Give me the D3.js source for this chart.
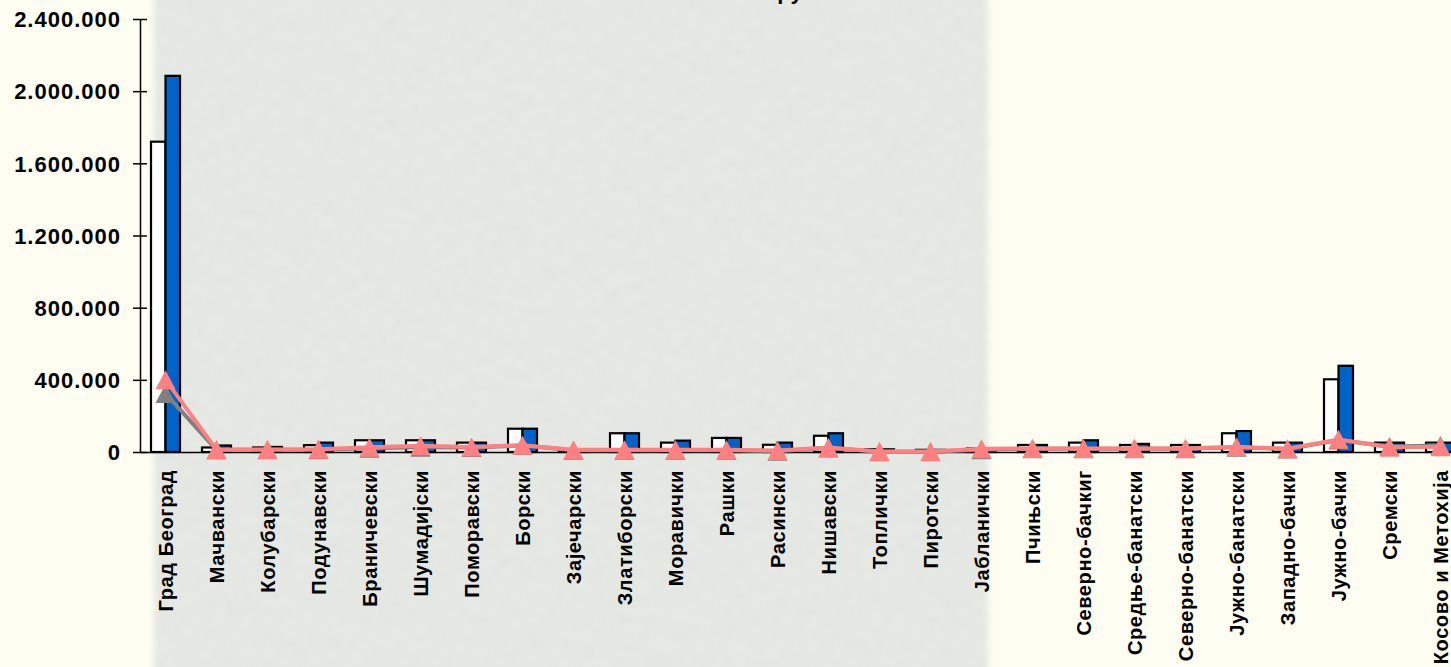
<!DOCTYPE html>
<html><head><meta charset="utf-8">
<script src="https://cdn.jsdelivr.net/npm/d3@7"></script>
<style>
html,body{margin:0;padding:0;background:#fdfdf1;overflow:hidden;}
svg{display:block;}
</style></head>
<body>
<svg id="chart" width="1451" height="667"></svg>
<script>
const categories = ["Град Београд","Мачвански","Колубарски","Подунавски","Браничевски","Шумадијски","Поморавски","Борски","Зајечарски","Златиборски","Моравички","Рашки","Расински","Нишавски","Топлички","Пиротски","Јабланички","Пчињски","Северно-бачкиг","Средње-банатски","Северно-банатски","Јужно-банатски","Западно-бачки","Јужно-бачки","Сремски","Косово и Метохија"];
const seriesWhite = [1720000,25000,25000,38000,65000,65000,52000,129000,10000,104000,52000,78000,40000,90000,15000,12000,20000,39000,52000,39000,39000,104000,52000,403000,52000,52000];
const seriesBlue  = [2085000,36000,28000,52000,65000,65000,52000,129000,10000,104000,63000,78000,52000,104000,15000,12000,20000,39000,65000,45000,39000,116000,52000,478000,52000,52000];
const linePink    = [400000,13000,14000,15000,26000,35000,28000,38000,12000,12000,12000,12000,8000,25000,3000,3000,18000,20000,20000,20000,20000,29000,18000,70000,26000,29000];
const lineGrey    = [324000,12000,12000,13000,21000,26000,25000,36000,10000,10000,10000,10000,4000,22000,2000,2000,12000,18000,18000,18000,18000,27000,16000,66000,30000,36000];
const yTicks = [0,400000,800000,1200000,1600000,2000000,2400000];

const svg = d3.select("#chart");
const W = 1451, H = 667;

// background
const defs = svg.append("defs");
const f = defs.append("filter").attr("id","tex").attr("x","-5%").attr("y","-5%").attr("width","110%").attr("height","110%");
f.append("feTurbulence").attr("type","fractalNoise").attr("baseFrequency","0.9 0.12").attr("numOctaves",2).attr("seed",3).attr("result","n");
f.append("feColorMatrix").attr("in","n").attr("type","matrix")
 .attr("values","0 0 0 0 1  0 0 0 0 1  0 0 0 0 1  0 0 0 1.4 -0.6").attr("result","w");
f.append("feComposite").attr("in","w").attr("in2","SourceGraphic").attr("operator","in").attr("result","wt");
f.append("feMerge").call(m=>{m.append("feMergeNode").attr("in","SourceGraphic");m.append("feMergeNode").attr("in","wt");});
const blur = defs.append("filter").attr("id","soft").attr("x","-2%").attr("y","-2%").attr("width","104%").attr("height","104%");
blur.append("feGaussianBlur").attr("stdDeviation",3);

svg.append("rect").attr("width",W).attr("height",H).attr("fill","#fdfdf1");
const bgG = svg.append("g").attr("filter","url(#soft)");
bgG.append("rect").attr("x",154).attr("y",-10).attr("width",834).attr("height",H+20).attr("fill","#e0e3de").attr("filter","url(#tex)");

const x = d3.scaleBand().domain(categories).range([140,1466]).padding(0);
const y = d3.scaleLinear().domain([0,2400000]).range([452,19]);
const bw = x.bandwidth();
const barW = 14.5;

// title fragment (cut off at top, as in the reference)
svg.append("text").attr("x",790).attr("y",-1).attr("text-anchor","middle")
  .attr("font-family","'Liberation Sans',Arial,sans-serif").attr("font-weight","bold").attr("font-size",22)
  .attr("fill","#000").text("ру");

// bars
const g = svg.append("g");
categories.forEach((c,i)=>{
  const cx = x(c) + bw/2;
  g.append("rect").attr("x",cx-barW).attr("y",y(seriesWhite[i])).attr("width",barW).attr("height",y(0)-y(seriesWhite[i]))
    .attr("fill","#ffffff").attr("stroke","#000").attr("stroke-width",2.2);
  g.append("rect").attr("x",cx).attr("y",y(seriesBlue[i])).attr("width",barW).attr("height",y(0)-y(seriesBlue[i]))
    .attr("fill","#0063ca").attr("stroke","#000").attr("stroke-width",2.2);
});

// axes
const yAxis = d3.axisLeft(y).tickValues(yTicks).tickSize(0).tickPadding(0)
  .tickFormat(d=>d3.format(",")(d).replace(/,/g,"."));
const ya = svg.append("g").attr("transform","translate(140,0)").call(yAxis);
ya.select(".domain").attr("stroke","#000").attr("stroke-width",1.5);
ya.selectAll(".tick line").remove();
ya.selectAll(".tick").append("line").attr("x1",-7).attr("x2",7).attr("stroke","#000").attr("stroke-width",1.5);
ya.selectAll(".tick text").attr("x",-19).attr("dy","0.35em")
  .attr("font-family","'Liberation Sans',Arial,sans-serif").attr("font-weight","bold").attr("font-size",22)
  .attr("letter-spacing","1px").attr("fill","#000");

const xAxis = d3.axisBottom(x).tickSize(0).tickPadding(0);
const xa = svg.append("g").attr("transform","translate(0,452)").call(xAxis);
xa.select(".domain").attr("stroke","#000").attr("stroke-width",1.5);
xa.selectAll(".tick text")
  .attr("transform","translate(0,18) rotate(-90)")
  .attr("text-anchor","end").attr("x",0).attr("y",0).attr("dy","0.36em")
  .attr("font-family","'Liberation Sans',Arial,sans-serif").attr("font-weight","bold").attr("font-size",20)
  .attr("letter-spacing","0.6px").attr("fill","#000");

// lines
const tri = "M0,-9.5L10,9.5L-10,9.5Z";
function drawLine(vals,color){
  const gen = d3.line().x((d,i)=>x(categories[i])+bw/2).y(d=>y(d));
  svg.append("path").datum(vals).attr("d",gen).attr("fill","none").attr("stroke",color).attr("stroke-width",4).attr("stroke-linejoin","round");
  svg.append("g").selectAll("path").data(vals).join("path")
    .attr("transform",(d,i)=>`translate(${x(categories[i])+bw/2},${y(d)})`)
    .attr("d",tri).attr("fill",color);
}
drawLine(lineGrey,"#808080");
drawLine(linePink,"#ff8080");
</script>
</body></html>
